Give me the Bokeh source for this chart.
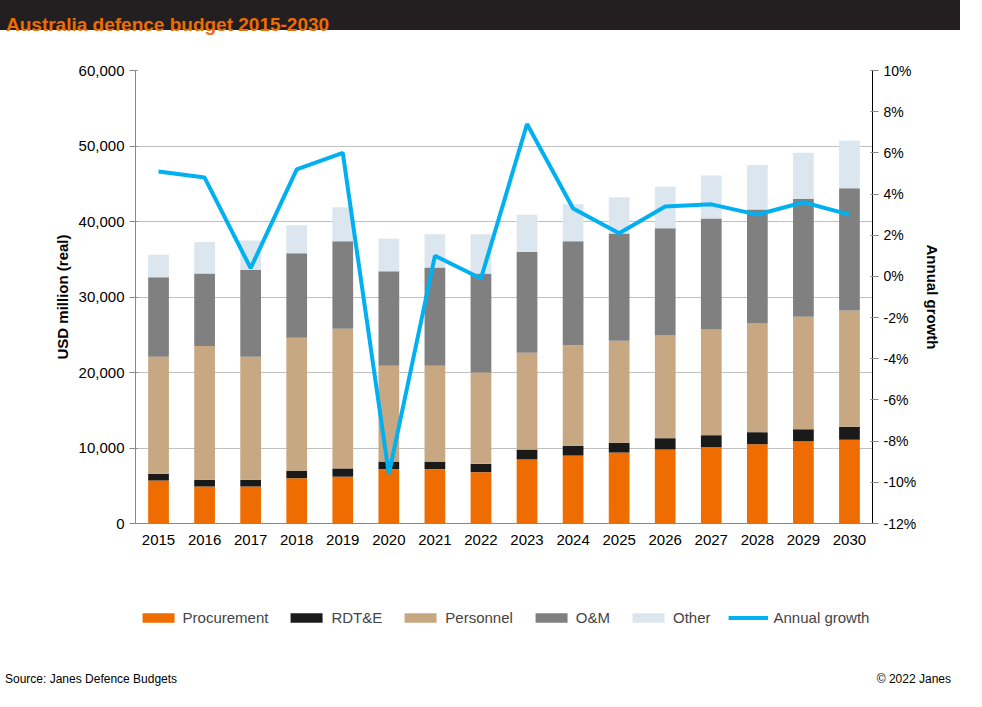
from bokeh.plotting import figure
from bokeh.models import (ColumnDataSource, Range1d, LinearAxis, Legend, LegendItem,
                          NumeralTickFormatter, PrintfTickFormatter, FixedTicker, Div)
from bokeh.layouts import column
from bokeh.embed import file_html
from bokeh.resources import INLINE

years = [str(y) for y in range(2015, 2031)]
procurement = [5700, 4900, 4900, 6000, 6200, 7200, 7200, 6800, 8500, 9000, 9400, 9800, 10100, 10500, 10900, 11100]
rdte = [900, 900, 900, 1000, 1100, 1000, 1000, 1100, 1300, 1300, 1300, 1500, 1600, 1600, 1600, 1700]
personnel = [15500, 17700, 16300, 17600, 18500, 12700, 12700, 12100, 12800, 13300, 13500, 13600, 14000, 14400, 14900, 15400]
om = [10500, 9600, 11500, 11200, 11600, 12500, 13000, 13100, 13400, 13800, 14200, 14200, 14700, 15100, 15600, 16200]
other = [3000, 4200, 3900, 3700, 4500, 4300, 4400, 5200, 4900, 4900, 4800, 5500, 5700, 5900, 6100, 6300]
growth = [5.1, 4.8, 0.4, 5.2, 6.0, -9.6, 1.0, -0.1, 7.4, 3.3, 2.1, 3.4, 3.5, 3.0, 3.6, 3.0]

series = ["procurement", "rdte", "personnel", "om", "other"]
names = ["Procurement", "RDT&E", "Personnel", "O&M", "Other"]
colors = ["#ee6c00", "#1a1a1a", "#c8a882", "#808080", "#dce6ee"]
src = ColumnDataSource(dict(years=years, procurement=procurement, rdte=rdte, personnel=personnel,
                            om=om, other=other, growth=growth))

FONT = "Liberation Sans"
header = Div(text='<div style="background:#231f20;color:#ee6c00;font:bold 19px Liberation Sans;'
             'padding:14px 0 0 6px;height:30px;width:960px">Australia defence budget 2015-2030</div>',
             width=966, height=44, margin=(0, 0, 0, 0))

p = figure(x_range=years, y_range=Range1d(0, 60000), width=966, height=548,
           output_backend="svg", toolbar_location=None,
           min_border_left=135, min_border_right=94, min_border_top=26, min_border_bottom=69)
p.margin = (0, 0, 0, 0)
r = p.vbar_stack(series, x="years", width=0.45, color=colors, source=src, line_color=None)
p.extra_y_ranges = {"g": Range1d(-12, 10)}
ln = p.line(x="years", y="growth", source=src, y_range_name="g", line_color="#00b0f0", line_width=4)

ax2 = LinearAxis(y_range_name="g", axis_label="Annual growth",
                 ticker=FixedTicker(ticks=list(range(-12, 11, 2))),
                 formatter=PrintfTickFormatter(format="%d%%"))
p.add_layout(ax2, "right")
p.yaxis[0].ticker = FixedTicker(ticks=list(range(0, 60001, 10000)))
p.yaxis[0].formatter = NumeralTickFormatter(format="0,0")
p.yaxis[0].axis_label = "USD million (real)"
for ax in p.yaxis + p.xaxis:
    ax.major_label_text_font = FONT
    ax.major_label_text_font_size = "15px"
    ax.major_label_text_color = "black"
    ax.axis_label_text_font = FONT
    ax.axis_label_text_font_size = "15px"
    ax.axis_label_text_font_style = "bold"
    ax.axis_label_text_color = "black"
    ax.minor_tick_line_color = None
    ax.axis_line_color = "#888888"
    ax.major_tick_line_color = "#888888"
ax2.major_label_text_font_size = "14px"
ax2.axis_line_color = "black"
p.xaxis.major_tick_line_color = None
p.xgrid.grid_line_color = None
p.ygrid.grid_line_color = "#c0c0c0"
p.outline_line_color = None

# legend in its own strip
lf = figure(x_range=Range1d(0, 1), y_range=Range1d(0, 1), width=966, height=50,
            output_backend="svg", toolbar_location=None,
            min_border_left=0, min_border_right=0, min_border_top=0, min_border_bottom=0)
lf.margin = (0, 0, 0, 0)
lf.axis.visible = False
lf.grid.visible = False
lf.outline_line_color = None
items = []
for n, c in zip(names, colors):
    rr = lf.vbar(x=[-5], top=[-5], width=0.1, color=c, line_color=None)
    items.append(LegendItem(label=n, renderers=[rr]))
rl = lf.line(x=[-5, -4], y=[-5, -5], line_color="#00b0f0", line_width=4)
items.append(LegendItem(label="Annual growth", renderers=[rl]))
leg = Legend(items=items, orientation="horizontal", label_text_font=FONT, label_text_font_size="15px",
             border_line_color=None, background_fill_alpha=0, glyph_width=40, glyph_height=12,
             spacing=18, location="center", margin=0, padding=0)
lf.add_layout(leg, "center")

footer = Div(text='<div style="display:flex;justify-content:space-between;width:956px;'
             'font:12px Liberation Sans;padding:30px 5px 0 5px">'
             '<span>Source: Janes Defence Budgets</span><span>&copy; 2022 Janes</span></div>',
             width=966, height=55, margin=(0, 0, 0, 0))

lay = column(header, p, lf, footer, spacing=0)
open("out.html", "w").write(file_html(lay, INLINE))
